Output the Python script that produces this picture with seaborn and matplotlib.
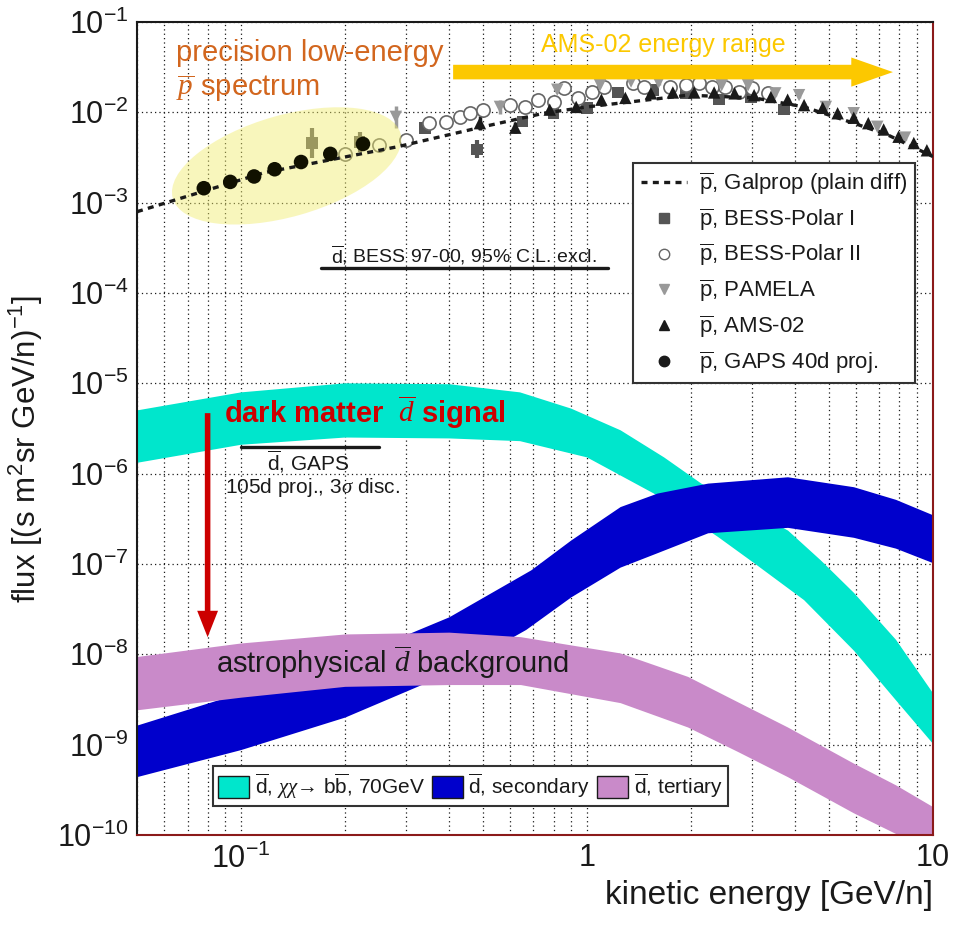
import numpy as np
import pandas as pd
import matplotlib
matplotlib.use("Agg")
import matplotlib.pyplot as plt
import seaborn as sns
from matplotlib.patches import Ellipse, Patch, FancyArrowPatch
from matplotlib.lines import Line2D
from matplotlib.ticker import FixedLocator, FixedFormatter, LogLocator, NullFormatter

# ---------------- data (log10 of flux) ----------------
cyan_hi_E = [0.05, 0.1, 0.2, 0.4, 0.64, 0.90, 1.25, 1.67, 2.14, 2.79, 3.81, 4.74, 5.91, 7.82, 10.0]
cyan_hi = [-5.30, -5.10, -5.00, -5.01, -5.10, -5.28, -5.52, -5.82, -6.11, -6.35, -6.63, -6.96, -7.32, -7.84, -8.43]
cyan_lo_E = [0.05, 0.1, 0.2, 0.4, 0.64, 1.0, 1.56, 2.39, 3.04, 4.24, 5.91, 7.82, 10.0]
cyan_lo = [-5.88, -5.68, -5.60, -5.61, -5.64, -5.82, -6.22, -6.70, -6.99, -7.40, -7.96, -8.51, -8.99]

blue_hi_E = [0.05, 0.1, 0.2, 0.4, 0.69, 0.90, 1.25, 1.60, 2.24, 3.81, 5.91, 7.82, 10.0]
blue_hi = [-8.79, -8.43, -8.07, -7.59, -7.07, -6.74, -6.37, -6.22, -6.11, -6.04, -6.15, -6.29, -6.46]
blue_lo_E = [0.05, 0.1, 0.2, 0.4, 0.667, 0.90, 1.25, 1.60, 2.24, 3.81, 5.91, 7.82, 10.0]
blue_lo = [-9.36, -9.06, -8.70, -8.21, -7.73, -7.37, -7.04, -6.88, -6.66, -6.60, -6.71, -6.83, -6.99]

purple_hi_E = [0.05, 0.1, 0.2, 0.4, 0.644, 1.25, 1.96, 2.73, 3.81, 5.91, 7.82, 10.0]
purple_hi = [-8.03, -7.88, -7.78, -7.76, -7.81, -7.99, -8.25, -8.53, -8.81, -9.21, -9.45, -9.69]
purple_lo_E = [0.05, 0.1, 0.2, 0.4, 0.644, 1.25, 1.96, 2.73, 3.81, 5.91, 7.93, 10.0]
purple_lo = [-8.62, -8.48, -8.36, -8.34, -8.34, -8.54, -8.81, -9.08, -9.36, -9.76, -10.00, -10.25]

galprop_E = [0.05, 0.116, 0.284, 0.50, 0.75, 1.0, 1.96, 3.04, 4.24, 5.9, 7.4, 10.0]
galprop_F = [-3.10, -2.67, -2.38, -2.16, -2.01, -1.94, -1.81, -1.84, -1.94, -2.12, -2.25, -2.49]

bess1_E = [0.16, 0.22, 0.34, 0.48, 0.65, 0.80, 1.0, 1.23, 1.55, 1.93, 2.41, 2.98, 3.71]
bess1_F = [-2.34, -2.33, -2.17, -2.41, -2.10, -2.01, -1.95, -1.78, -1.75, -1.79, -1.86, -1.83, -1.97]
bess1_err = [0.17, 0.11, 0.07, 0.10, 0.05, 0.04, 0.03, 0.03, 0.03, 0.03, 0.03, 0.03, 0.04]

bess2_E = [0.20, 0.25, 0.30, 0.35, 0.39, 0.43, 0.46, 0.50, 0.60, 0.66, 0.72, 0.80, 0.86,
           0.94, 1.03, 1.12, 1.36, 1.46, 1.74, 1.93, 2.1, 2.3, 2.5, 2.75, 3.0, 3.33]
bess2_F = [-2.46, -2.36, -2.31, -2.12, -2.11, -2.05, -2.01, -1.97, -1.92, -1.94, -1.86, -1.89, -1.73,
           -1.84, -1.78, -1.72, -1.68, -1.72, -1.72, -1.70, -1.68, -1.72, -1.72, -1.78, -1.73, -1.79]
bess2_err = [0.08, 0.06, 0.05, 0.04, 0.04, 0.03, 0.03, 0.03, 0.03, 0.03, 0.03, 0.03, 0.03,
             0.03, 0.03, 0.03, 0.03, 0.03, 0.03, 0.03, 0.03, 0.03, 0.03, 0.03, 0.03, 0.03]

pamela_E = [0.28, 0.56, 0.82, 1.09, 1.34, 1.61, 2.45, 2.92, 3.5, 4.1, 4.9, 5.9, 6.9, 8.3]
pamela_F = [-2.05, -1.94, -1.75, -1.70, -1.66, -1.67, -1.70, -1.70, -1.79, -1.81, -1.94, -2.01, -2.16, -2.28]
pamela_err = [0.12, 0.08, 0.04, 0.03, 0.03, 0.03, 0.03, 0.03, 0.03, 0.03, 0.03, 0.03, 0.03, 0.03]

ams_E = [0.49, 0.62, 0.78, 0.93, 1.1, 1.29, 1.53, 1.77, 2.04, 2.33, 2.67, 3.04, 3.4, 3.8,
         4.24, 4.8, 5.3, 5.9, 6.5, 7.2, 7.95, 8.8, 9.6]
ams_F = [-2.12, -2.17, -1.97, -1.94, -1.86, -1.84, -1.79, -1.78, -1.78, -1.78, -1.79, -1.81, -1.83, -1.86,
         -1.92, -1.95, -2.01, -2.06, -2.12, -2.19, -2.27, -2.34, -2.42]
ams_err = [0.08, 0.06, 0.03, 0.03, 0.02, 0.02, 0.02, 0.02, 0.02, 0.02, 0.02, 0.02, 0.02, 0.02,
           0.02, 0.02, 0.02, 0.02, 0.02, 0.02, 0.02, 0.02, 0.02]

gaps_E = [0.078, 0.093, 0.109, 0.125, 0.149, 0.181, 0.225]
gaps_F = [-2.84, -2.77, -2.71, -2.63, -2.55, -2.46, -2.35]

bess_limit_E = [0.17, 1.15]
bess_limit_F = [-3.72, -3.72]
gaps_limit_E = [0.10, 0.25]
gaps_limit_F = [-5.71, -5.71]

y_ticks = [-10, -9, -8, -7, -6, -5, -4, -3, -2, -1]
x_ticks = [0.1, 1.0, 10.0]
x_ticklabels = [r"$\mathregular{10^{-1}}$", "1", "10"]

# ---------------- style ----------------
sns.set_theme(style="white")
plt.rcParams['font.family'] = ['Liberation Sans', 'DejaVu Sans']
plt.rcParams['mathtext.fontset'] = 'custom'
plt.rcParams['mathtext.rm'] = 'Liberation Sans'
plt.rcParams['mathtext.sf'] = 'Liberation Sans'
plt.rcParams['mathtext.it'] = 'Liberation Serif:italic'
plt.rcParams['mathtext.bf'] = 'Liberation Sans:bold'
plt.rcParams['text.color'] = 'black'
plt.rcParams['axes.labelcolor'] = 'black'
plt.rcParams['xtick.color'] = 'black'
plt.rcParams['ytick.color'] = 'black'
plt.rcParams['legend.labelcolor'] = 'black'

CYAN = '#00e6cc'
BLUE = '#0000cc'
PURPLE = '#c98ac9'
GOLD = '#fcc800'
ORANGE = '#d2661e'
RED = '#cc0000'

fig = plt.figure(figsize=(9.54, 9.25), dpi=100)
ax = fig.add_axes([137 / 954, 1 - 835 / 925, 796 / 954, 813 / 925])
ax.set_xscale('log')
ax.set_yscale('log')
ax.set_xlim(0.05, 10)
ax.set_ylim(1e-10, 1e-1)

def p10(a):
    return np.power(10.0, np.asarray(a, dtype=float))

def band(E_hi, hi, E_lo, lo, color, z):
    xs = list(E_hi) + list(E_lo)[::-1]
    ys = list(p10(hi)) + list(p10(lo))[::-1]
    ax.fill(xs, ys, color=color, lw=0, zorder=z)

band(cyan_hi_E, cyan_hi, cyan_lo_E, cyan_lo, CYAN, 2)
band(blue_hi_E, blue_hi, blue_lo_E, blue_lo, BLUE, 2.1)
band(purple_hi_E, purple_hi, purple_lo_E, purple_lo, PURPLE, 2.2)

# galprop line
gal = pd.DataFrame({'E': galprop_E, 'F': p10(galprop_F)})
sns.lineplot(data=gal, x='E', y='F', ax=ax, color='k', lw=2.4,
             linestyle=(0, (1.8, 1.6)), zorder=8, legend=False)

def errs(F, e):
    F = p10(F)
    e = np.asarray(e)
    return [F - F * 10 ** (-e), F * 10 ** e - F]

# data points
ax.errorbar(bess1_E, p10(bess1_F), yerr=errs(bess1_F, bess1_err), fmt='none',
            ecolor='#555555', elinewidth=3, capsize=0, zorder=4)
sns.scatterplot(x=bess1_E, y=p10(bess1_F), marker='s', s=70, color='#555555',
                edgecolor='none', ax=ax, zorder=4, legend=False)

ax.errorbar(bess2_E, p10(bess2_F), yerr=errs(bess2_F, bess2_err), fmt='none',
            ecolor='#777777', elinewidth=1.2, capsize=0, zorder=4)
ax.plot(bess2_E, p10(bess2_F), ls='none', marker='o', ms=9.5, mfc='white',
        mec='#666666', mew=1.2, zorder=4.2)

ax.errorbar(pamela_E, p10(pamela_F), yerr=errs(pamela_F, pamela_err), fmt='none',
            ecolor='#999999', elinewidth=2.5, capsize=0, zorder=4)
sns.scatterplot(x=pamela_E, y=p10(pamela_F), marker='v', s=80, color='#999999',
                edgecolor='none', ax=ax, zorder=4.3, legend=False)

ax.errorbar(ams_E, p10(ams_F), yerr=errs(ams_F, ams_err), fmt='none',
            ecolor='k', elinewidth=2.5, capsize=0, zorder=4)
sns.scatterplot(x=ams_E, y=p10(ams_F), marker='^', s=80, color='k',
                edgecolor='none', ax=ax, zorder=4.4, legend=False)

sns.scatterplot(x=gaps_E, y=p10(gaps_F), marker='o', s=110, color='#111100',
                edgecolor='none', ax=ax, zorder=8.5, legend=False)

# limits
ax.plot(bess_limit_E, p10(bess_limit_F), color='k', lw=2.4, zorder=5)
ax.plot(gaps_limit_E, p10(gaps_limit_F), color='k', lw=2.4, zorder=5)

# highlight ellipse
ell = Ellipse((0.188, 0.823), 0.297, 0.125, angle=15.5, transform=ax.transAxes,
              facecolor='#f1ec6c', alpha=0.45, edgecolor='none', zorder=7)
ax.add_patch(ell)

# arrows
ams_arrow = FancyArrowPatch((0.41, 0.0279), (7.66, 0.0279),
                            arrowstyle='simple,head_length=3.0,head_width=2.1,tail_width=1.05',
                            mutation_scale=10, color=GOLD, lw=0, shrinkA=0, shrinkB=0, zorder=9)
ax.add_patch(ams_arrow)
red_arrow = FancyArrowPatch((0.08, 10 ** -5.33), (0.08, 10 ** -7.81),
                            arrowstyle='simple,head_length=1.9,head_width=1.5,tail_width=0.4',
                            mutation_scale=10, color=RED, lw=0, shrinkA=0, shrinkB=0, zorder=9)
ax.add_patch(red_arrow)

# texts
ax.text(0.065, 0.0454, "precision low-energy", color=ORANGE, fontsize=21,
        ha='left', va='center', zorder=9)
ax.text(0.065, 0.0186, r"$\overline{p}$ spectrum", color=ORANGE, fontsize=21,
        ha='left', va='center', zorder=9)
ax.text(1.66, 0.0556, "AMS-02 energy range", color=GOLD, fontsize=18,
        ha='center', va='center', zorder=9)
ax.text(0.44, 2.2e-4, r"$\overline{\mathrm{d}}$, BESS 97-00, 95% C.L. excl.", color='k',
        fontsize=14, ha='center', va='baseline', zorder=9)
ax.text(0.0893, 4.8e-6, r"dark matter  $\overline{d}$ signal", color=RED, fontsize=21,
        fontweight='bold', ha='left', va='center', zorder=9)
ax.text(0.156, 1.34e-6, r"$\overline{\mathrm{d}}$, GAPS", color='k', fontsize=15,
        ha='center', va='center', zorder=9)
ax.text(0.161, 7.1e-7, r"105d proj., 3$\sigma$ disc.", color='k', fontsize=15,
        ha='center', va='center', zorder=9)
ax.text(0.0847, 8.2e-9, r"astrophysical $\overline{d}$ background", color='k', fontsize=21,
        ha='left', va='center', zorder=9)

# ticks & grid
ax.xaxis.set_minor_locator(LogLocator(base=10, subs=np.arange(2, 10), numticks=20))
ax.xaxis.set_minor_formatter(NullFormatter())
ax.yaxis.set_minor_locator(LogLocator(base=10, subs=np.arange(2, 10), numticks=30))
ax.yaxis.set_minor_formatter(NullFormatter())
ax.xaxis.set_major_locator(FixedLocator(x_ticks))
ax.xaxis.set_major_formatter(FixedFormatter(x_ticklabels))
ax.yaxis.set_major_locator(FixedLocator(p10(y_ticks)))
ax.yaxis.set_major_formatter(FixedFormatter([r"$\mathregular{10^{%d}}$" % v for v in y_ticks]))

ax.grid(True, which='both', axis='x', color='k', ls=(0, (1, 2.5)), lw=0.9, zorder=1)
ax.grid(True, which='major', axis='y', color='k', ls=(0, (1, 2.5)), lw=0.9, zorder=1)
ax.set_axisbelow(True)

ax.tick_params(axis='both', which='both', direction='in', colors='k',
               labelcolor='k', top=False, right=False)
ax.tick_params(axis='y', which='major', length=18, width=1.2, labelsize=22, pad=6)
ax.tick_params(axis='y', which='minor', length=9, width=1.0)
ax.tick_params(axis='x', which='major', length=12, width=1.2, labelsize=22, pad=6)
ax.tick_params(axis='x', which='minor', length=8, width=1.0)

for side in ['left', 'top']:
    ax.spines[side].set_color('k')
    ax.spines[side].set_linewidth(1.5)
for side in ['right', 'bottom']:
    ax.spines[side].set_color('#8b1a1a')
    ax.spines[side].set_linewidth(1.5)

ax.set_xlabel("kinetic energy [GeV/n]", fontsize=24, loc='right', color='k')
ax.xaxis.set_label_coords(1.0, -0.055)
ax.set_ylabel(r"flux [(s $\mathregular{m^{2}}$sr GeV/n$\mathregular{)^{-1}}$]", fontsize=22.5, color='k')
ax.yaxis.set_label_coords(-0.116, 0.475)

# legends
handles1 = [
    Line2D([], [], color='k', lw=2.4, ls=(0, (1.8, 1.6))),
    Line2D([], [], marker='s', color='#555555', ls='none', ms=7),
    Line2D([], [], marker='o', mfc='white', mec='#666666', ls='none', ms=7.5),
    Line2D([], [], marker='v', color='#999999', ls='none', ms=7.5),
    Line2D([], [], marker='^', color='k', ls='none', ms=7.5),
    Line2D([], [], marker='o', color='k', ls='none', ms=7.5),
]
labels1 = [r"$\overline{\mathrm{p}}$, Galprop (plain diff)",
           r"$\overline{\mathrm{p}}$, BESS-Polar I",
           r"$\overline{\mathrm{p}}$, BESS-Polar II",
           r"$\overline{\mathrm{p}}$, PAMELA",
           r"$\overline{\mathrm{p}}$, AMS-02",
           r"$\overline{\mathrm{p}}$, GAPS 40d proj."]
leg1 = ax.legend(handles1, labels1, loc='upper right', bbox_to_anchor=(0.977, 0.8266),
                 fontsize=16, frameon=True, fancybox=False, framealpha=1,
                 edgecolor='#333333', labelspacing=0.42, handlelength=2.1,
                 handletextpad=0.5, borderpad=0.35, borderaxespad=0, labelcolor='k')
leg1.get_frame().set_linewidth(1.5)
leg1.set_zorder(10)
ax.add_artist(leg1)

handles2 = [Patch(facecolor=CYAN, edgecolor='k', lw=1),
            Patch(facecolor=BLUE, edgecolor='k', lw=1),
            Patch(facecolor=PURPLE, edgecolor='k', lw=1)]
labels2 = [r"$\overline{\mathrm{d}}$, $\chi\chi$→ b$\overline{\mathrm{b}}$, 70GeV",
           r"$\overline{\mathrm{d}}$, secondary",
           r"$\overline{\mathrm{d}}$, tertiary"]
leg2 = ax.legend(handles2, labels2, loc='lower left', bbox_to_anchor=(0.0955, 0.0357),
                 ncol=3, fontsize=15, frameon=True, fancybox=False, framealpha=1,
                 edgecolor='#333333', handlelength=1.5, handleheight=1.25,
                 handletextpad=0.25, columnspacing=0.35, borderpad=0.25, borderaxespad=0,
                 labelcolor='k')
leg2.get_frame().set_linewidth(1.5)
leg2.set_zorder(10)

fig.savefig("out.png", dpi=100)
